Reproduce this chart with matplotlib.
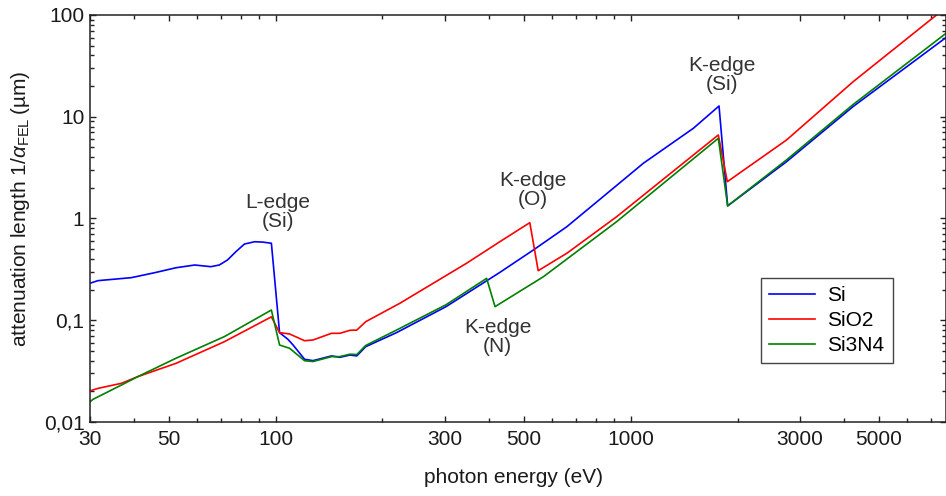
import matplotlib
matplotlib.use('Agg')
import matplotlib.pyplot as plt
from matplotlib.ticker import FixedLocator, FixedFormatter, LogLocator, NullFormatter

plt.rcParams['font.family'] = ['Liberation Sans', 'DejaVu Sans']
plt.rcParams['mathtext.fontset'] = 'custom'
plt.rcParams['mathtext.rm'] = 'Liberation Sans'
plt.rcParams['mathtext.it'] = 'Liberation Sans:italic'

# photon energy (eV) / attenuation length (um)
si_E = [30, 31.6, 39.2, 45.6, 52.4, 59.2, 65.7, 69.4, 73.2, 77.3, 81.7, 87.3, 92.0, 97.3,
        102.6, 108.3, 112, 120.7, 127.5, 143.7, 151.7, 162, 169.3, 179.4, 219, 302, 428,
        532, 661, 893, 1086, 1502, 1774, 1876, 2747, 4234, 7731]
si_L = [0.231, 0.245, 0.262, 0.293, 0.328, 0.349, 0.336, 0.349, 0.391, 0.472, 0.561, 0.591, 0.586, 0.571,
        0.0755, 0.065, 0.0571, 0.0413, 0.0401, 0.0446, 0.0432, 0.0455, 0.0446, 0.055, 0.0755, 0.136, 0.295,
        0.49, 0.83, 1.98, 3.49, 7.7, 12.75, 1.33, 3.61, 12.6, 60]

sio2_E = [30, 31.6, 36.8, 40.9, 52.4, 71.7, 97.3, 102.6, 109.5, 120.7, 127.5, 143.7, 151.7, 162,
          169.3, 179.4, 224, 278, 345, 428, 520, 549, 661, 913, 1262, 1766, 1872, 2747, 4234, 7270]
sio2_L = [0.0202, 0.0214, 0.024, 0.0279, 0.0377, 0.0615, 0.108, 0.0755, 0.0733, 0.0629, 0.064, 0.0744, 0.0744, 0.0797,
          0.080, 0.0968, 0.147, 0.231, 0.363, 0.591, 0.91, 0.307, 0.455, 1.04, 2.58, 6.62, 2.30, 5.9, 22.1, 100]

si3n4_E = [30, 30.6, 36.8, 40.9, 52.4, 71.7, 97.3, 102.6, 109.5, 120.7, 127.5, 143.7, 151.7, 162,
           169.3, 179.4, 219, 302, 393, 415, 568, 913, 1766, 1876, 2747, 4234, 7731]
si3n4_L = [0.0158, 0.0167, 0.0231, 0.0279, 0.0423, 0.069, 0.126, 0.0571, 0.053, 0.040, 0.0393, 0.0439, 0.0439, 0.0464,
           0.046, 0.0565, 0.080, 0.142, 0.258, 0.136, 0.268, 0.93, 6.14, 1.33, 3.76, 13.2, 66]

xticks = [30, 50, 100, 300, 500, 1000, 3000, 5000]
yticks = [0.01, 0.1, 1, 10, 100]
ylabels = ['0,01', '0,1', '1', '10', '100']

# edge labels: (text, energy, length)
edges = [('L-edge\n(Si)', 101.5, 1.16),
         ('K-edge\n(O)', 531, 1.9),
         ('K-edge\n(N)', 422, 0.0684),
         ('K-edge\n(Si)', 1803, 25.7)]

fg = plt.figure(figsize=(9.46, 4.96), dpi=100)
ax = fg.add_axes([0.0951, 0.1492, 0.9049, 0.8206])

ax.plot(si_E, si_L, color='#0000ff', lw=1.2, label='Si')
ax.plot(sio2_E, sio2_L, color='#ff0000', lw=1.2, label='SiO2')
ax.plot(si3n4_E, si3n4_L, color='#008000', lw=1.2, label='Si3N4')

ax.set_xscale('log')
ax.set_yscale('log')
ax.set_xlim(30, 7731)
ax.set_ylim(0.01, 100)

ax.xaxis.set_major_locator(FixedLocator(xticks))
ax.xaxis.set_major_formatter(FixedFormatter([str(v) for v in xticks]))
ax.xaxis.set_minor_locator(LogLocator(base=10, subs=range(2, 10), numticks=20))
ax.xaxis.set_minor_formatter(NullFormatter())
ax.yaxis.set_major_locator(FixedLocator(yticks))
ax.yaxis.set_major_formatter(FixedFormatter(ylabels))
ax.yaxis.set_minor_locator(LogLocator(base=10, subs=range(2, 10), numticks=20))
ax.yaxis.set_minor_formatter(NullFormatter())

ax.tick_params(which='both', direction='in', top=True, right=True, width=1, color='#222222')
ax.tick_params(which='major', length=4.5, labelsize=15, labelcolor='#1a1a1a')
ax.tick_params(which='minor', length=3)
ax.tick_params(axis='x', which='major', pad=6)
ax.tick_params(axis='y', which='major', pad=4)
for s in ax.spines.values():
    s.set_linewidth(1.1)
    s.set_color('#222222')

ax.set_xlabel('photon energy (eV)', fontsize=15, color='#1a1a1a')
ax.set_ylabel('attenuation length 1/$\\alpha_{\\mathrm{FEL}}$\u2009(µm)', fontsize=15, color='#1a1a1a')
ax.yaxis.set_label_coords(-0.0682, 0.5246)
ax.xaxis.set_label_coords(0.4942, -0.113)

for txt, ex, ey in edges:
    ax.text(ex, ey, txt, ha='center', va='center', fontsize=15, color='#333333', linespacing=1.05)

leg = ax.legend(loc='upper left', bbox_to_anchor=(0.7835, 0.3538), fontsize=15,
                frameon=True, fancybox=False, framealpha=1, edgecolor='#444444',
                handlelength=2.2, handletextpad=0.6, borderpad=0.4, labelspacing=0.28,
                borderaxespad=0)
leg.get_frame().set_linewidth(1.0)
ax.grid(False)

fg.savefig('out.png', dpi=100)
